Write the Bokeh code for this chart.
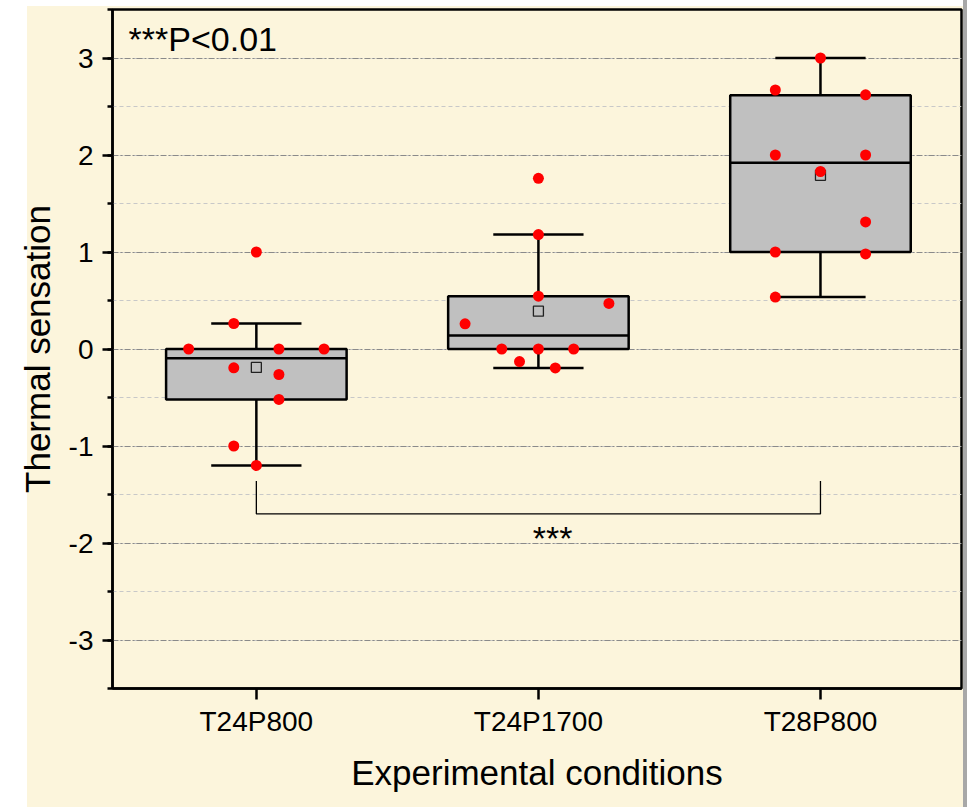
from bokeh.plotting import figure
from bokeh.models import Label, SingleIntervalTicker, FixedTicker, Div, Range1d
from bokeh.layouts import row
from bokeh.embed import file_html
from bokeh.resources import INLINE

# ---------------- data ----------------
categories = ["T24P800", "T24P1700", "T28P800"]
q1 = [-0.52, 0.0, 1.0]
median = [-0.095, 0.14, 1.92]
q3 = [0.0, 0.545, 2.615]
mean = [-0.19, 0.39, 1.79]
whisker_low = [-1.2, -0.195, 0.535]
whisker_high = [0.263, 1.18, 3.0]

g1_values = [1.0, 0.263, 0.0, 0.0, 0.0, -0.194, -0.263, -0.52, -1.0, -1.2]
g1_jitter = [0.0, -0.08, -0.24, 0.08, 0.24, -0.08, 0.08, 0.08, -0.08, 0.0]
g2_values = [1.76, 1.18, 0.545, 0.47, 0.26, 0.0, 0.0, 0.0, -0.13, -0.195]
g2_jitter = [0.0, 0.0, 0.0, 0.25, -0.26, -0.13, 0.0, 0.125, -0.067, 0.06]
g3_values = [3.0, 2.67, 2.62, 2.0, 2.0, 1.83, 1.31, 1.0, 0.98, 0.535]
g3_jitter = [0.0, -0.16, 0.16, -0.16, 0.16, 0.0, 0.16, -0.16, 0.16, -0.16]

y_ticks = [-3, -2, -1, 0, 1, 2, 3]
significance_text = "***"
note_text = "***P<0.01"
x_title = "Experimental conditions"
y_title = "Thermal sensation"

# ---------------- styling ----------------
FONT = "Liberation Sans"
CREAM = "#fcf5dc"
BOX_FILL = "#c0c0c0"
LW = 2.5

xs = [i + 1 for i in range(len(categories))]
box_half = 0.32
cap_half = 0.16

p = figure(width=949, height=801, output_backend="svg", toolbar_location=None,
           x_range=Range1d(0.49, 3.5), y_range=Range1d(-3.5, 3.5),
           min_border_left=97, min_border_right=2, min_border_top=3, min_border_bottom=119)
p.margin = (6, 0, 0, 14)
p.background_fill_color = CREAM
p.border_fill_color = None
p.styles = {"background": "linear-gradient(to right, #ffffff 0px, #ffffff 13px, %s 13px, %s 100%%)" % (CREAM, CREAM)}
p.outline_line_color = "black"
p.outline_line_width = LW
p.outline_line_alpha = 1.0

# grids
p.xgrid.grid_line_color = None
p.ygrid.grid_line_color = "#8a8a8a"
p.ygrid.grid_line_dash = "6 2 2 2"
p.ygrid.grid_line_width = 1
p.ygrid.minor_grid_line_color = "#c8c8c8"
p.ygrid.minor_grid_line_dash = "4 3"
p.ygrid.minor_grid_line_width = 1

# axes
p.yaxis.ticker = SingleIntervalTicker(interval=1, num_minor_ticks=2)
p.xaxis.ticker = FixedTicker(ticks=xs)
p.xaxis.major_label_overrides = {x: c for x, c in zip(xs, categories)}
p.yaxis.major_label_overrides = {t: str(t) for t in y_ticks}
for ax in (p.xaxis[0], p.yaxis[0]):
    ax.axis_line_width = LW
    ax.axis_line_color = "black"
    ax.major_tick_line_width = LW
    ax.minor_tick_line_width = LW
    ax.major_tick_in = 0
    ax.minor_tick_in = 0
    ax.major_label_text_font = FONT
    ax.major_label_text_font_size = "28px"
    ax.major_label_text_color = "black"
    ax.axis_label_text_font = FONT
    ax.axis_label_text_font_size = "35px"
    ax.axis_label_text_font_style = "normal"
    ax.axis_label_text_color = "black"
p.xaxis.major_tick_out = 11
p.xaxis.minor_tick_out = 0
p.xaxis.minor_tick_line_color = None
p.yaxis.major_tick_out = 10
p.yaxis.minor_tick_out = 5
p.xaxis.major_label_standoff = 6
p.yaxis.major_label_standoff = 9
p.xaxis.axis_label = x_title
p.yaxis.axis_label = y_title
p.xaxis.axis_label_standoff = 13
p.yaxis.axis_label_standoff = 9

# boxes
p.quad(left=[x - box_half for x in xs], right=[x + box_half for x in xs],
       bottom=q1, top=q3, fill_color=BOX_FILL, line_color="black", line_width=LW)
p.segment(x0=[x - box_half for x in xs], x1=[x + box_half for x in xs],
          y0=median, y1=median, line_color="black", line_width=LW)
# whiskers
p.segment(x0=xs, x1=xs, y0=q3, y1=whisker_high, line_color="black", line_width=LW)
p.segment(x0=xs, x1=xs, y0=q1, y1=whisker_low, line_color="black", line_width=LW)
p.segment(x0=[x - cap_half for x in xs], x1=[x + cap_half for x in xs],
          y0=whisker_high, y1=whisker_high, line_color="black", line_width=LW)
p.segment(x0=[x - cap_half for x in xs], x1=[x + cap_half for x in xs],
          y0=whisker_low, y1=whisker_low, line_color="black", line_width=LW)
# means
p.scatter(x=xs, y=mean, marker="square", size=10, fill_color=BOX_FILL,
          line_color="#222222", line_width=1.3)

# points
for x, vals, jit in zip(xs, [g1_values, g2_values, g3_values],
                        [g1_jitter, g2_jitter, g3_jitter]):
    p.scatter(x=[x + j for j in jit], y=vals, marker="circle", size=11,
              fill_color="#ff0000", line_color=None)

# significance bracket between first and last group
b_top, b_bot = -1.36, -1.70
p.line(x=[xs[0], xs[0], xs[2], xs[2]], y=[b_top, b_bot, b_bot, b_top],
       line_color="black", line_width=1.3)
p.add_layout(Label(x=2.05, y=-1.945, text=significance_text, text_font=FONT,
                   text_font_size="34px", text_align="center",
                   text_baseline="alphabetic", text_color="black"))
p.add_layout(Label(x=0.547, y=3.20, text=note_text, text_font=FONT,
                   text_font_size="34px", text_align="left",
                   text_baseline="alphabetic", text_color="black"))

strip = Div(width=4, height=807, styles={"background-color": "#a8a8a8"})
strip.margin = (0, 0, 0, 0)
layout = row(p, strip)
layout.margin = (0, 0, 0, 0)

open("out.html", "w").write(file_html(layout, INLINE))
